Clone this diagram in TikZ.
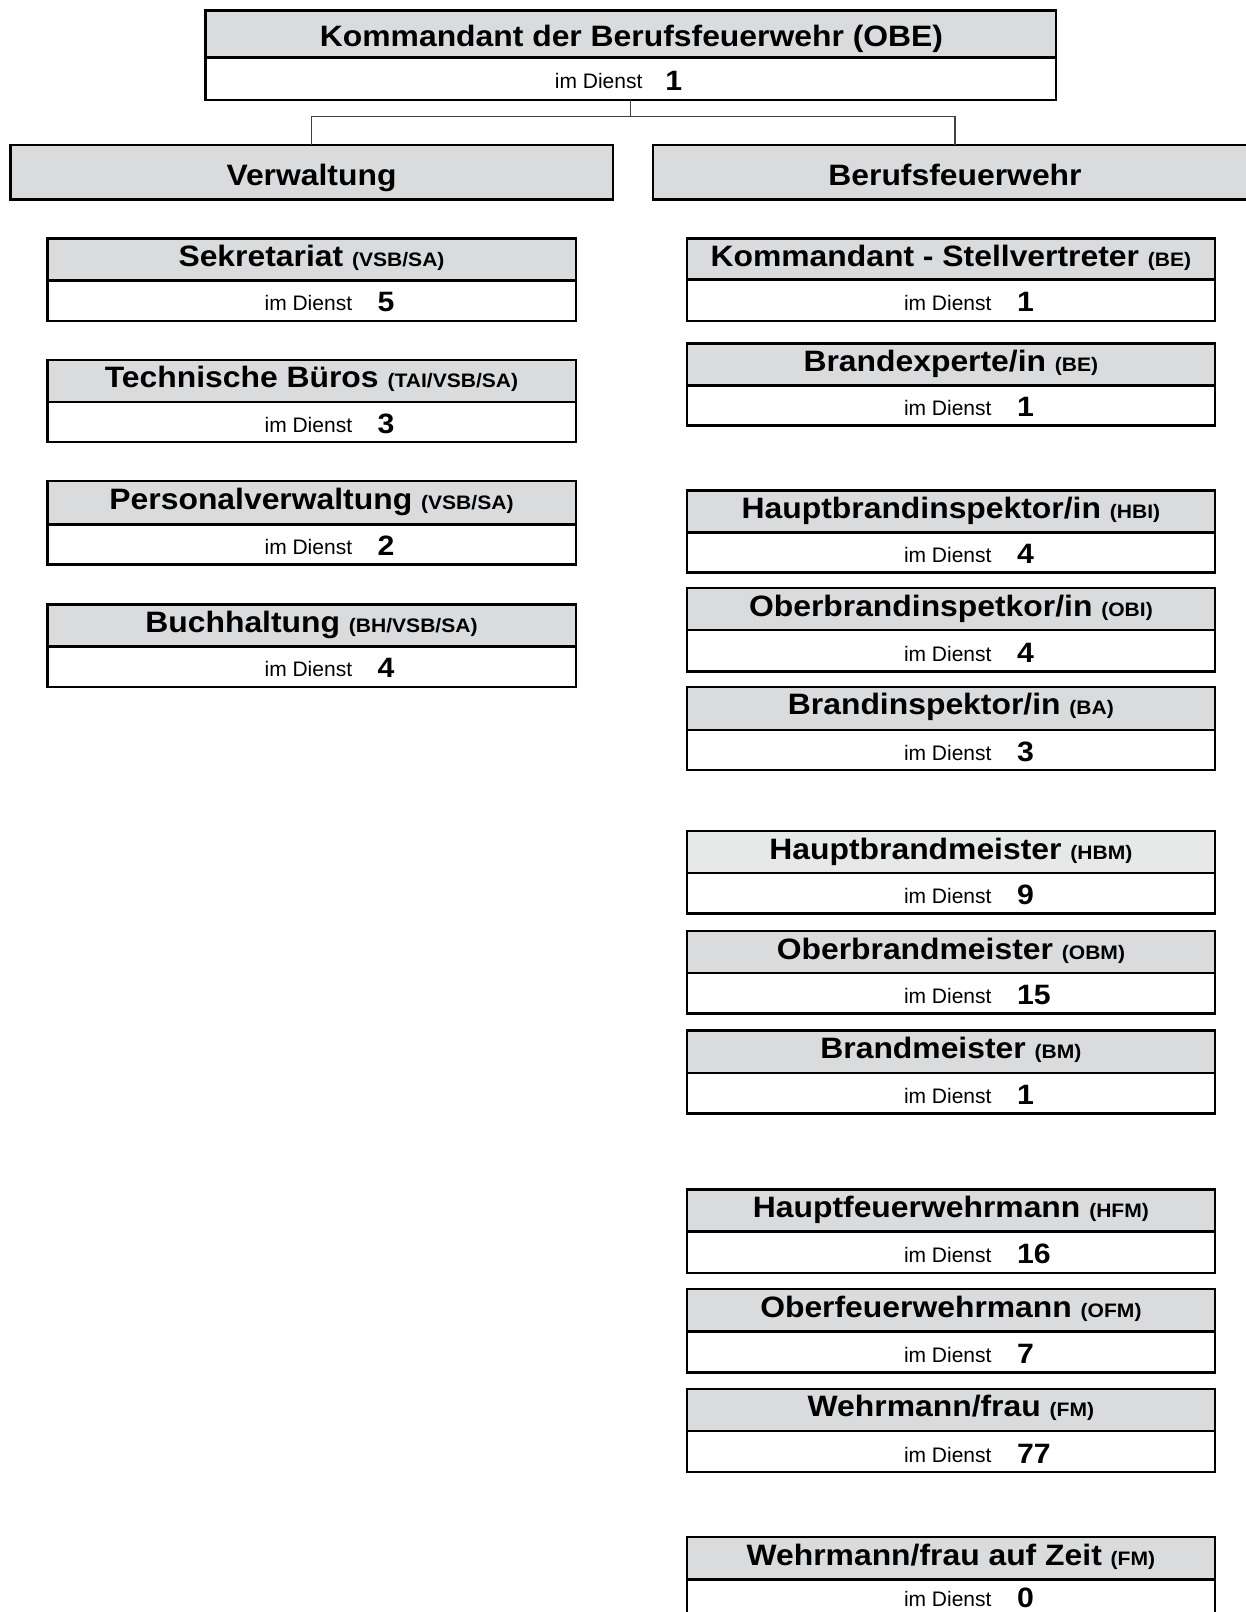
\documentclass[tikz,border=0pt]{standalone}
\usepackage{fontspec}
\setmainfont{Liberation Sans}
\newfontfamily\bst{Liberation Sans}[FakeStretch=1.08]
\definecolor{hdrgrayA}{HTML}{DADBDD}
\definecolor{hdrgrayB}{HTML}{E7E8E8}
\tikzset{
  hdrbox/.style={draw=black, line width=1.2pt, fill=hdrgrayA, inner sep=0pt, outer sep=0pt},
  lightfill/.style={fill=hdrgrayB},
  bodybox/.style={draw=black, line width=1.2pt, fill=white, inner sep=0pt, outer sep=0pt},
  bigtext/.style={inner sep=0pt, anchor=base, font=\bst\bfseries\fontsize{14.75}{17}\selectfont},
  dienst/.style={inner sep=0pt, anchor=base west, font=\fontsize{10.5}{12}\selectfont},
  numtext/.style={inner sep=0pt, anchor=base west, font=\bst\bfseries\fontsize{14}{16}\selectfont},
  conn/.style={draw=black!75, line width=0.6pt},
}
\newcommand\abbr[1]{{\fontsize{9.75}{11}\selectfont #1}}
% [style] name xleft top div bottom main abbr number
\newcommand\unitbox[9][]{%
  \node[hdrbox,#1,minimum width=264.2pt,minimum height={(#5-#4)*0.5pt},anchor=north west] (#2h) at (#3,#4) {};
  \node[bodybox,minimum width=264.2pt,minimum height={(#6-#5)*0.5pt},anchor=north west] (#2b) at (#3,#5) {};
  \node[bigtext] (#2t) at (#3+264.2,#4+28) {#7 \abbr{#8}};
  \node[dienst] (#2d) at (#3+216.9,#6-10) {im Dienst};
  \node[numtext] (#2n) at (#3+330,#6-9) {#9};
}
\begin{document}
\begin{tikzpicture}[x=0.5pt,y=-0.5pt]
\useasboundingbox (0,0) rectangle (1246,1612);
\clip (0,0) rectangle (1246,1612);
% top box
\node[hdrbox,minimum width={(1055.8-205.6)*0.5pt},minimum height={(57.6-10.3)*0.5pt},anchor=north west] (obeh) at (205.6,10.3) {};
\node[bodybox,minimum width={(1055.8-205.6)*0.5pt},minimum height={(99.7-57.6)*0.5pt},anchor=north west] (obeb) at (205.6,57.6) {};
\node[bigtext] (obet) at (631.5,46.5) {Kommandant der Berufsfeuerwehr (OBE)};
\node[dienst] (obed) at (554.5,88) {im Dienst};
\node[numtext] (oben) at (665,90) {1};
% second level
\node[hdrbox,minimum width={(612.7-10.3)*0.5pt},minimum height={(199.4-145)*0.5pt},anchor=north west] (verw) at (10.3,145) {};
\node[bigtext] (verwt) at (311.5,185) {Verwaltung};
\node[hdrbox,minimum width={(1257.2-652.8)*0.5pt},minimum height={(199.4-145)*0.5pt},anchor=north west] (bf) at (652.8,145) {};
\node[bigtext] (bft) at (955,185) {Berufsfeuerwehr};
% connectors
\draw[conn] (obeb.south) -- ++(0,17) -| (verw.north);
\draw[conn] (obeb.south) -- ++(0,17) -| (bf.north);
% left column
\unitbox{sek}{47.3}{238.5}{280.6}{320.7}{Sekretariat}{(VSB/SA)}{5}
\unitbox{tech}{47.3}{359.8}{402}{442}{Technische Büros}{(TAI/VSB/SA)}{3}
\unitbox{pers}{47.3}{481}{524.3}{564.4}{Personalverwaltung}{(VSB/SA)}{2}
\unitbox{buch}{47.3}{604.5}{646.6}{686.7}{Buchhaltung}{(BH/VSB/SA)}{4}
% right column
\unitbox{kst}{686.7}{238.5}{279.6}{320.7}{Kommandant - Stellvertreter}{(BE)}{1}
\unitbox{bex}{686.7}{343.4}{385.5}{425.6}{Brandexperte/in}{(BE)}{1}
\unitbox{hbi}{686.7}{490.4}{532.5}{572.6}{Hauptbrandinspektor/in}{(HBI)}{4}
\unitbox{obi}{686.7}{588}{630.2}{671.3}{Oberbrandinspetkor/in}{(OBI)}{4}
\unitbox{ba}{686.7}{686.7}{729.9}{770}{Brandinspektor/in}{(BA)}{3}
\unitbox[lightfill]{hbm}{686.7}{831}{873}{913.5}{Hauptbrandmeister}{(HBM)}{9}
\unitbox{obm}{686.7}{931}{973}{1013.5}{Oberbrandmeister}{(OBM)}{15}
\unitbox{bm}{686.7}{1030.5}{1073}{1113.3}{Brandmeister}{(BM)}{1}
\unitbox{hfm}{686.7}{1189.4}{1231.5}{1272.7}{Hauptfeuerwehrmann}{(HFM)}{16}
\unitbox{ofm}{686.7}{1289}{1331.3}{1372.4}{Oberfeuerwehrmann}{(OFM)}{7}
\unitbox{fm}{686.7}{1388.8}{1431}{1472.1}{Wehrmann/frau}{(FM)}{77}
\unitbox{fmz}{686.7}{1537}{1579.5}{1616.5}{Wehrmann/frau auf Zeit}{(FM)}{0}
\end{tikzpicture}
\end{document}
